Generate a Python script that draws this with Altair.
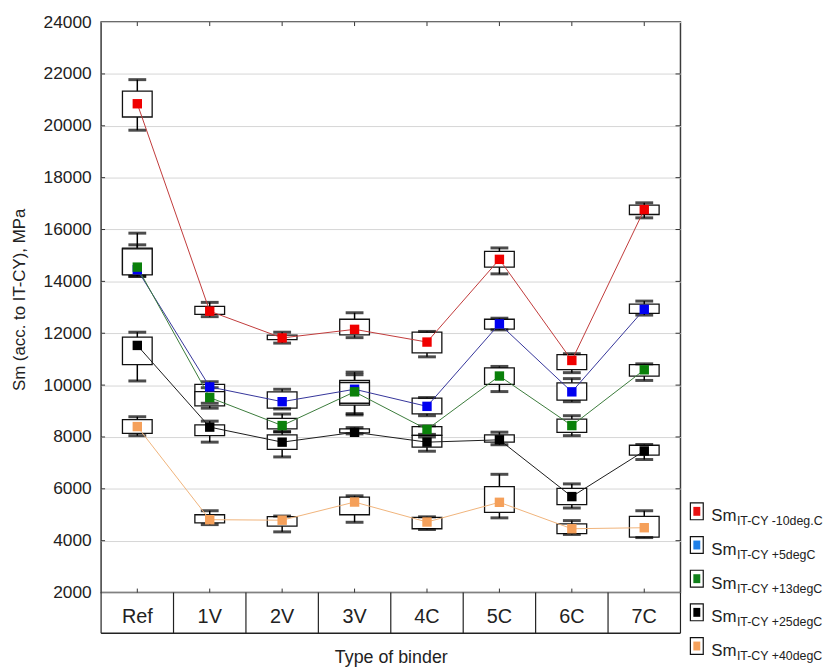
import altair as alt
import pandas as pd

cats = ["Ref", "1V", "2V", "3V", "4C", "5C", "6C", "7C"]
series = ["-10deg.C", "+5degC", "+13degC", "+25degC", "+40degC"]
sub_labels = ["IT-CY -10deg.C", "IT-CY +5degC", "IT-CY +13degC", "IT-CY +25degC", "IT-CY +40degC"]

# Series -10 deg C
red_mean = [20850, 12850, 11820, 12150, 11660, 14850, 10950, 16770]
red_bhi = [21340, 13040, 11930, 12540, 12040, 15160, 11175, 16940]
red_blo = [20340, 12730, 11750, 11940, 11240, 14550, 10600, 16580]
red_whi = [21780, 13190, 12040, 12790, 12070, 15290, 11210, 17030]
red_wlo = [19830, 12640, 11620, 11830, 11090, 14290, 10480, 16450]

# Series +5 deg C
blue_mean = [14450, 9930, 9360, 9840, 9180, 12360, 9740, 12920]
blue_bhi = [15280, 10030, 9740, 10180, 9500, 12540, 10090, 13120]
blue_blo = [14270, 9450, 9110, 9230, 8890, 12160, 9420, 12770]
blue_whi = [15860, 10130, 9840, 10500, 9520, 12580, 10250, 13240]
blue_wlo = [14190, 9300, 9080, 8850, 8820, 12130, 9360, 12700]

# Series +13 deg C
green_mean = [14550, 9520, 8440, 9740, 8290, 10350, 8440, 10590]
green_bhi = [15250, 9750, 8720, 10100, 8400, 10665, 8690, 10790]
green_blo = [14250, 9200, 8310, 9300, 8060, 10030, 8180, 10350]
green_whi = [15410, 9900, 8885, 10400, 8430, 10720, 8820, 10820]
green_wlo = [14200, 9110, 8200, 8900, 8000, 9750, 8050, 10180]

# Series +25 deg C
black_mean = [11530, 8380, 7800, 8180, 7800, 7890, 5700, 7460]
black_bhi = [11850, 8470, 8080, 8310, 8060, 8080, 6020, 7680]
black_blo = [10790, 8050, 7520, 8160, 7610, 7800, 5390, 7300]
black_whi = [12040, 8610, 8200, 8360, 8100, 8185, 6190, 7710]
black_wlo = [10160, 7800, 7230, 8120, 7450, 7700, 5260, 7130]

# Series +40 deg C
orange_mean = [8400, 4810, 4790, 5490, 4720, 5480, 4460, 4500]
orange_bhi = [8670, 5000, 4930, 5680, 4900, 6085, 4650, 4940]
orange_blo = [8140, 4690, 4560, 5000, 4460, 5090, 4270, 4140]
orange_whi = [8780, 5155, 4950, 5730, 4920, 6560, 4775, 5155]
orange_wlo = [8050, 4620, 4340, 4710, 4430, 4880, 4240, 4120]

y_ticks = list(range(2000, 24001, 2000))

line_colors = ["#c03a3a", "#34349a", "#3a7a3a", "#1a1a1a", "#f0b37a"]
marker_colors = ["#f00000", "#0000f0", "#0a800a", "#000000", "#f5a05a"]
legend_colors = ["#e81010", "#2080e8", "#10801a", "#000000", "#f5a05a"]

all_series = [
    (red_mean, red_bhi, red_blo, red_whi, red_wlo),
    (blue_mean, blue_bhi, blue_blo, blue_whi, blue_wlo),
    (green_mean, green_bhi, green_blo, green_whi, green_wlo),
    (black_mean, black_bhi, black_blo, black_whi, black_wlo),
    (orange_mean, orange_bhi, orange_blo, orange_whi, orange_wlo),
]

rows = []
for si, (m, bh, bl, wh, wl) in enumerate(all_series):
    for ci, c in enumerate(cats):
        rows.append(dict(series=series[si], si=si, cat=c, ci=ci, mean=m[ci],
                         bhi=bh[ci], blo=bl[ci], whi=wh[ci], wlo=wl[ci]))
df = pd.DataFrame(rows)

W, H = 585, 576
TABLE_H = 41
FONT = "Liberation Sans"

yscale = alt.Scale(domain=[2000, 24000], nice=False, zero=False)
xscale = alt.Scale(domain=cats, paddingInner=0, paddingOuter=0)

xaxis = alt.Axis(labelFontSize=20, labelColor="#222222", labelPadding=24,
                 labelBaseline="middle", labelAngle=0, ticks=False, domain=False,
                 grid=False, titleFontSize=18, titleFontWeight="normal",
                 titleColor="#222222", titleY=71, titleBaseline="alphabetic")
yaxis = alt.Axis(values=y_ticks, format="d", labelFontSize=17.5, labelColor="#222222",
                 labelPadding=10, ticks=False, domain=False, grid=True,
                 gridColor="#d6d6d6", gridWidth=1, titleFontSize=17,
                 titleFontWeight="normal", titleColor="#222222", titleAngle=270,
                 titleX=-82, titleY=280, titleAlign="center", titleBaseline="middle")

XT = "Type of binder"
YT = "Sm (acc. to IT-CY), MPa"


def X(**kw):
    return alt.X("cat:N", sort=cats, scale=xscale, axis=xaxis, title=XT, **kw)


def Y(field):
    return alt.Y(field, scale=yscale, axis=yaxis, title=YT)


base = alt.Chart(df)

whiskers = base.mark_rule(color="#000000", strokeWidth=1.5).encode(
    x=X(), y=Y("wlo:Q"), y2="whi:Q")
boxes = base.mark_bar(fill="white", stroke="#111111", strokeWidth=1.3, size=30).encode(
    x=X(), y=Y("blo:Q"), y2="bhi:Q")
cap_hi = base.mark_tick(color="#000000", size=18, thickness=3).encode(x=X(), y=Y("whi:Q"))
cap_lo = base.mark_tick(color="#000000", size=18, thickness=3).encode(x=X(), y=Y("wlo:Q"))
lines = base.mark_line(strokeWidth=1).encode(
    x=X(), y=Y("mean:Q"),
    color=alt.Color("series:N", scale=alt.Scale(domain=series, range=line_colors), legend=None),
    order=alt.Order("ci:Q"))
markers = base.mark_square(size=90, opacity=1).encode(
    x=X(), y=Y("mean:Q"),
    color=alt.Color("series:N", scale=alt.Scale(domain=series, range=marker_colors), legend=None))

# category table below the plot
cat_df = pd.DataFrame({"cat": cats})
dividers = alt.Chart(cat_df).mark_rule(color="#222222", strokeWidth=1.2).encode(
    x=X(bandPosition=0), y=alt.value(H), y2=alt.value(H + TABLE_H))
one = pd.DataFrame({"k": [0]})
right_div = alt.Chart(one).mark_rule(color="#222222", strokeWidth=1.2).encode(
    x=alt.value(W), y=alt.value(H), y2=alt.value(H + TABLE_H))
table_bottom = alt.Chart(one).mark_rule(color="#222222", strokeWidth=1.5).encode(
    x=alt.value(0), x2=alt.value(W), y=alt.value(H + TABLE_H))

# inward ticks
top_ticks = alt.Chart(cat_df).mark_rule(color="#333333", strokeWidth=1).encode(
    x=X(), y=alt.value(0), y2=alt.value(4))
bot_ticks = alt.Chart(cat_df).mark_rule(color="#333333", strokeWidth=1).encode(
    x=X(), y=alt.value(H - 4), y2=alt.value(H))
tick_df = pd.DataFrame({"v": y_ticks[1:-1]})
left_ticks = alt.Chart(tick_df).mark_rule(color="#333333", strokeWidth=1).encode(
    y=Y("v:Q"), x=alt.value(0), x2=alt.value(4))
right_ticks = alt.Chart(tick_df).mark_rule(color="#333333", strokeWidth=1).encode(
    y=Y("v:Q"), x=alt.value(W - 5), x2=alt.value(W))

# manual legend with subscript text
legend_layers = []
LX = W + 10
LY0 = 494
LSTEP = 34
for i in range(len(series)):
    ld = pd.DataFrame({"main": ["Sm"], "sub": [sub_labels[i]]})
    cy = LY0 + LSTEP * i
    lc = alt.Chart(ld)
    legend_layers.append(lc.mark_rect(fill="white", stroke="#111111", strokeWidth=1.2).encode(
        x=alt.value(LX), x2=alt.value(LX + 13), y=alt.value(cy - 8.5), y2=alt.value(cy + 8.5)))
    legend_layers.append(lc.mark_rect(fill=legend_colors[i]).encode(
        x=alt.value(LX + 3), x2=alt.value(LX + 10), y=alt.value(cy - 4.5), y2=alt.value(cy + 4.5)))
    legend_layers.append(lc.mark_text(align="left", baseline="alphabetic", fontSize=17,
                                      font=FONT, color="#222222").encode(
        x=alt.value(LX + 21), y=alt.value(cy + 10), text="main:N"))
    legend_layers.append(lc.mark_text(align="left", baseline="alphabetic", fontSize=12.5,
                                      font=FONT, color="#222222").encode(
        x=alt.value(LX + 47), y=alt.value(cy + 14), text="sub:N"))

chart = alt.layer(
    whiskers, boxes, cap_hi, cap_lo, lines, markers,
    dividers, right_div, table_bottom,
    top_ticks, bot_ticks, left_ticks, right_ticks,
    *legend_layers
).resolve_scale(color="independent").properties(
    width=W, height=H,
    autosize=alt.AutoSizeParams(type="none"),
    padding={"left": 94, "top": 11, "right": 153, "bottom": 76},
).configure(font=FONT).configure_view(
    stroke="#3a3a3a", strokeWidth=1.5
).configure_axis(labelFont=FONT, titleFont=FONT)

chart.save("out.html", embed_options={"renderer": "svg", "actions": False})
